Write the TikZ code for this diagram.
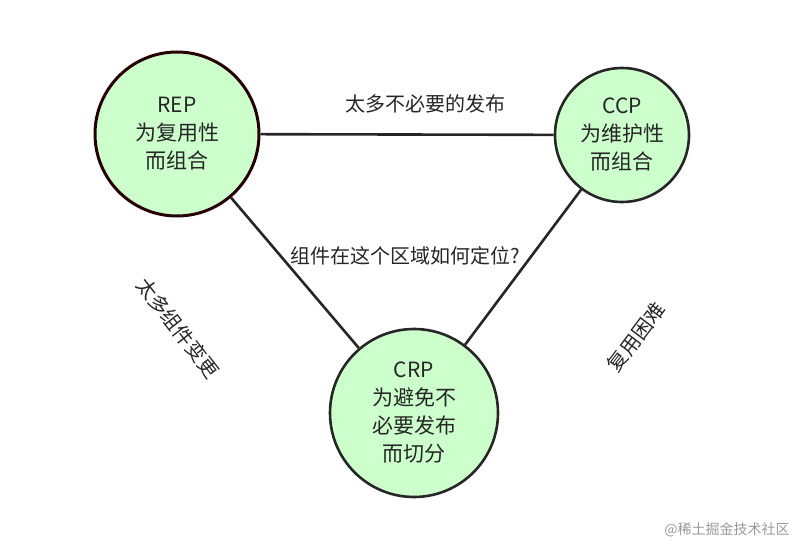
\documentclass[tikz,border=0pt]{standalone}
\usepackage{fontspec}
\setmainfont{Noto Sans CJK SC}
\begin{document}
\begin{tikzpicture}[x=1pt,y=-1pt,
  circ/.style={circle,draw=black!85,line width=2.6pt,fill=green!20!white,minimum size=#1,inner sep=0pt,align=center,font=\fontsize{21}{28}\selectfont,text=black!85},
  lbl/.style={font=\fontsize{20}{24}\selectfont,text=black!85},
  conn/.style={draw=black!85,line width=2.6pt}]
\useasboundingbox (0,0) rectangle (806,548);
\node[circ=164pt,draw=black!70!red!50!black,line width=3pt] (rep) at (177,134) {REP\\为复用性\\而组合};
\node[circ=134pt] (ccp) at (622,135) {CCP\\为维护性\\而组合};
\node[circ=168pt] (crp) at (414,413) {CRP\\为避免不\\必要发布\\而切分};
\draw[conn] (rep) -- (ccp);
\draw[conn] (rep) -- (crp);
\draw[conn] (ccp) -- (crp);
\node[lbl] (t1) at (425,104) {太多不必要的发布};
\node[lbl] (t2) at (405,256) {组件在这个区域如何定位?};
\node[lbl,rotate=-52] (t3) at (178,328) {太多组件变更};
\node[lbl,rotate=53] (t4) at (636,337) {复用困难};
\node[font=\fontsize{14}{16}\selectfont,text=black!40] (wm) at (727,530) {@稀土掘金技术社区};
\end{tikzpicture}
\end{document}
